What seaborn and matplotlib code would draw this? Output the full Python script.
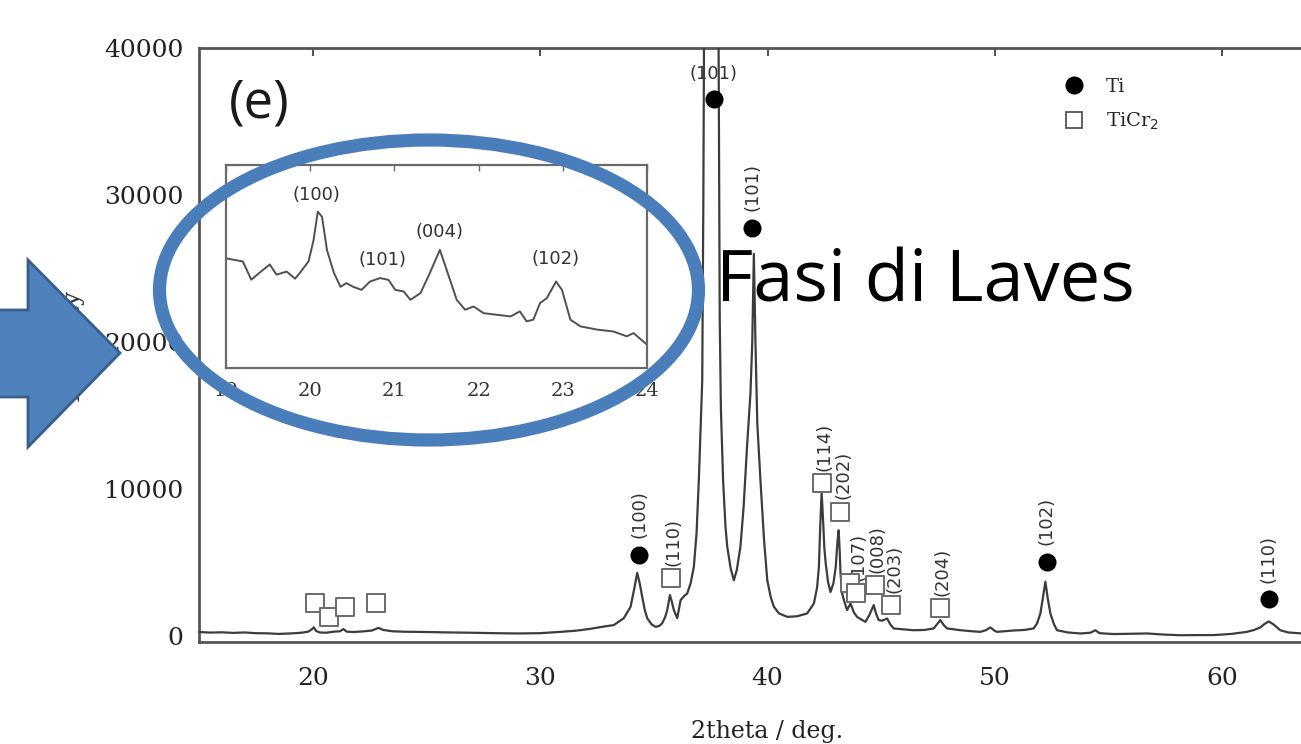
import numpy as np
import pandas as pd
import seaborn as sns
import matplotlib
matplotlib.use("Agg")
import matplotlib.pyplot as plt
from matplotlib.patches import Ellipse, Polygon
from matplotlib.lines import Line2D

# ---------------- data ----------------
two_theta = [15.0, 15.5, 16.0, 16.5, 17.0, 17.5, 18.0, 18.5, 19.0, 19.5, 19.8, 19.95, 20.05,
             20.15, 20.3, 20.6, 20.9, 21.2, 21.35, 21.5, 21.8, 22.2, 22.6, 22.9, 23.1, 23.5,
             24.0, 25.0, 26.0, 27.0, 28.0, 29.0, 30.0, 30.5, 31.0, 31.5, 31.8, 32.3, 32.8,
             33.24, 33.68, 33.98, 34.15, 34.27, 34.38, 34.49, 34.6, 34.71, 34.9, 35.08, 35.25,
             35.37, 35.5, 35.59, 35.71, 35.8, 35.88, 36.03, 36.18, 36.35, 36.47, 36.62, 36.76,
             36.88, 36.98, 37.08, 37.13, 37.18, 37.22, 37.35, 37.5, 37.65, 37.78, 37.85, 37.9,
             37.95, 38.05, 38.15, 38.23, 38.38, 38.52, 38.65, 38.81, 38.95, 39.1, 39.25, 39.33,
             39.4, 39.47, 39.55, 39.69, 39.85, 39.99, 40.15, 40.28, 40.5, 40.87, 41.3, 41.74,
             42.04, 42.18, 42.26, 42.32, 42.38, 42.44, 42.5, 42.56, 42.66, 42.77, 42.9, 43.0,
             43.08, 43.13, 43.18, 43.21, 43.28, 43.36, 43.5, 43.65, 43.8, 43.94, 44.1, 44.31,
             44.5, 44.67, 44.78, 44.89, 45.05, 45.26, 45.4, 45.55, 45.85, 46.43, 46.9, 47.31,
             47.5, 47.6, 47.75, 47.9, 48.5, 49.0, 49.36, 49.6, 49.8, 50.0, 50.1, 50.8, 51.3,
             51.7, 51.85, 52.0, 52.1, 52.22, 52.32, 52.44, 52.6, 52.73, 53.2, 53.76, 54.2,
             54.42, 54.6, 55.22, 56.0, 56.69, 57.5, 58.15, 58.9, 59.62, 60.4, 61.08, 61.4,
             61.67, 61.85, 62.04, 62.25, 62.55, 62.9, 63.47, 64.0, 65.0]
counts = [280, 240, 260, 220, 250, 200, 190, 150, 180, 230, 300, 450, 600,
          350, 250, 230, 300, 330, 480, 300, 280, 320, 380, 560, 420, 330,
          300, 280, 250, 230, 200, 180, 200, 250, 300, 360, 410, 520, 650,
          750, 1220, 2000, 3300, 4300, 3600, 2670, 1800, 1220, 800, 630, 700,
          880, 1300, 1770, 2790, 2300, 1770, 1220, 2450, 2750, 2900, 3600, 4700,
          7000, 10600, 15000, 17400, 30000, 45000, 60000, 65000, 60000, 48000, 40000, 21500,
          15500, 10500, 7500, 6080, 4600, 3800, 4500, 6080, 8800, 12900, 16500, 20000,
          26000, 20000, 14500, 10600, 6500, 3800, 2600, 2000, 1550, 1310, 1350, 1540,
          2220, 3300, 4700, 7500, 9800, 8000, 6000, 4950, 3700, 3000, 3600, 4700,
          6500, 7200, 5600, 4290, 2920, 2450, 1770, 2220, 1600, 1310, 1150, 970,
          1500, 2110, 1500, 1090, 1050, 1200, 800, 520, 480, 400, 420, 520,
          900, 1090, 750, 520, 400, 330, 290, 400, 590, 350, 290, 380, 420,
          520, 850, 1540, 2500, 3700, 2600, 1540, 800, 400, 250, 180, 230,
          400, 200, 140, 160, 180, 100, 60, 70, 70, 150, 290, 420,
          590, 820, 1000, 800, 400, 250, 180, 180, 180]

ti_theta = [34.35, 37.63, 39.34, 52.29, 62.04]
ti_counts = [5510, 36500, 27760, 5050, 2500]
ti_hkl = ["(100)", "(101)", "(101)", "(102)", "(110)"]

ticr2_theta = [20.1, 20.7, 21.4, 22.8, 35.74, 42.4, 43.21, 43.62, 43.9, 44.72, 45.45, 47.57]
ticr2_counts = [2220, 1310, 2000, 2220, 3920, 10390, 8460, 3600, 2900, 3470, 2110, 1880]
ticr2_hkl = ["", "", "", "", "(110)", "(114)", "(202)", "", "(107)", "(008)", "(203)", "(204)"]

inset_theta = [19.0, 19.2, 19.3, 19.4, 19.52, 19.6, 19.72, 19.82, 19.88, 19.98, 20.04, 20.09,
               20.14, 20.2, 20.28, 20.36, 20.43, 20.51, 20.61, 20.71, 20.83, 20.93, 21.01,
               21.11, 21.19, 21.31, 21.42, 21.54, 21.62, 21.74, 21.84, 21.94, 22.06, 22.22,
               22.38, 22.49, 22.57, 22.65, 22.73, 22.81, 22.92, 22.99, 23.09, 23.21, 23.41,
               23.6, 23.76, 23.84, 24.0]
inset_intensity = [54, 52.5, 43.5, 47, 51, 46, 47.5, 44, 47, 52.5, 63, 77,
                   74.5, 58, 47, 40, 41.8, 40, 38.5, 42.6, 44.3, 43.4, 38.5,
                   37.7, 33.6, 36.9, 46.7, 58.2, 48.4, 33.6, 28.7, 30.3, 27, 26.2,
                   25.4, 27.9, 23, 23.8, 32, 34.4, 42.6, 38.5, 23.8, 20.5, 18.9,
                   18, 15.6, 17.2, 11.5]
inset_hkl = ["(100)", "(101)", "(004)", "(102)"]
inset_hkl_theta = [20.08, 20.86, 21.54, 22.91]
inset_hkl_level = [85.2, 53.3, 67.2, 53.8]

x_ticks = [20, 30, 40, 50, 60]
y_ticks = [0, 10000, 20000, 30000, 40000]
inset_ticks = [19, 20, 21, 22, 23, 24]

# ---------------- figure ----------------
sns.set_style("white")
plt.rcParams["font.family"] = ["DejaVu Serif"]

W, H = 1301, 744
fig = plt.figure(figsize=(W / 100, H / 100), dpi=100)
fig.patch.set_facecolor("white")

def fx(px):
    return px / W

def fy(py):
    return 1 - py / H

ax = fig.add_axes([fx(199), fy(642), fx(1336) - fx(199), fy(48) - fy(642)])
df = pd.DataFrame({"two_theta": two_theta, "counts": counts})
sns.lineplot(data=df, x="two_theta", y="counts", ax=ax, color="#3c3c3c", lw=1.6,
             estimator=None, sort=False, zorder=3)
ax.set_xlim(15, 65)
ax.set_ylim(-400, 40000)
ax.set_xticks(x_ticks)
ax.set_yticks(y_ticks)
ax.set_xticklabels([str(v) for v in x_ticks])
ax.set_yticklabels([str(v) for v in y_ticks])
ax.tick_params(axis="both", direction="in", length=6, width=1.5, color="#555555",
               labelsize=18, labelcolor="#222222")
ax.tick_params(axis="x", top=True, pad=18)
ax.tick_params(axis="y", pad=11)
for s in ax.spines.values():
    s.set_color("#555555")
    s.set_linewidth(2)
ax.set_xlabel("")
ax.set_ylabel("")
fig.text(fx(767), fy(743), "2theta / deg.", ha="center", va="bottom", fontsize=17,
         color="#222222")

# markers
sns.scatterplot(x=ti_theta, y=ti_counts, ax=ax, marker="o", s=169, color="black",
                edgecolor="black", linewidth=0, zorder=5)
sns.scatterplot(x=ticr2_theta, y=ticr2_counts, ax=ax, marker="s", s=169, facecolor="white",
                edgecolor="#6a6a6a", linewidth=1.4, zorder=5)

lab_kw = dict(fontsize=13, family="DejaVu Sans", color="#333333", textcoords="offset points")
for t, c, h in zip(ti_theta, ti_counts, ti_hkl):
    if c > 30000:
        ax.annotate(h, (t, c), xytext=(0, 12), ha="center", va="bottom", zorder=2, **lab_kw)
    else:
        ax.annotate(h, (t, c), xytext=(0, 12), ha="center", va="bottom", rotation=90, **lab_kw)
for t, c, h in zip(ticr2_theta, ticr2_counts, ticr2_hkl):
    if h:
        ax.annotate(h, (t, c), xytext=(2, 9), ha="center", va="bottom", rotation=90, **lab_kw)

# legend
handles = [Line2D([], [], marker="o", ls="", color="black", markersize=12),
           Line2D([], [], marker="s", ls="", markerfacecolor="white", markeredgecolor="#555555",
                  markeredgewidth=1.3, markersize=11)]
ax.legend(handles, ["Ti", "TiCr$_2$"], loc="upper left", bbox_to_anchor=(fx(1062), fy(78)),
          bbox_transform=fig.transFigure, frameon=False, fontsize=14, handlelength=1.2,
          handletextpad=1.05, labelspacing=0.75, borderpad=0, borderaxespad=0)

# inset
axi = fig.add_axes([fx(226), fy(368), fx(647) - fx(226), fy(165) - fy(368)])
dfi = pd.DataFrame({"two_theta": inset_theta, "intensity": inset_intensity})
sns.lineplot(data=dfi, x="two_theta", y="intensity", ax=axi, color="#505050", lw=1.4,
             estimator=None, sort=False)
axi.set_xlim(19, 24)
axi.set_ylim(0, 100)
axi.set_xticks(inset_ticks)
axi.set_xticklabels([str(v) for v in inset_ticks])
axi.set_yticks([])
axi.set_xlabel("")
axi.set_ylabel("")
axi.tick_params(axis="x", direction="in", top=True, length=4, width=1, color="#666666",
                labelsize=14, labelcolor="#333333", pad=10)
for s in axi.spines.values():
    s.set_color("#6a6a6a")
    s.set_linewidth(1.6)
for t, lv, h in zip(inset_hkl_theta, inset_hkl_level, inset_hkl):
    axi.text(t, lv, h, ha="center", va="center", fontsize=13, family="DejaVu Sans",
             color="#333333")

# y label (mostly hidden by the arrow)
fig.text(fx(72), fy(345), "Intensity", rotation=90, ha="center", va="center",
         fontsize=18, color="#333333")

# slide overlays
fig.text(fx(229), fy(117), "(e)", fontsize=38, family="Open Sans", color="#1a1a1a",
         ha="left", va="baseline")
fig.text(fx(716), fy(302), "Fasi di Laves", fontsize=52, family="Open Sans", color="black",
         ha="left", va="baseline", zorder=6)

ell = Ellipse((fx(429), fy(290)), width=539 / W, height=300 / H, transform=fig.transFigure,
              fill=False, edgecolor="#4a7ebb", lw=9.5, zorder=4)
fig.add_artist(ell)

arrow_px = [(-5, 310), (28, 310), (28, 260), (120, 353), (28, 447), (28, 397), (-5, 397)]
arrow = Polygon([(fx(x), fy(y)) for x, y in arrow_px], closed=True, transform=fig.transFigure,
                facecolor="#4f81bd", edgecolor="#3a5e8c", lw=2, zorder=5)
fig.add_artist(arrow)

fig.savefig("out.png", dpi=100)
